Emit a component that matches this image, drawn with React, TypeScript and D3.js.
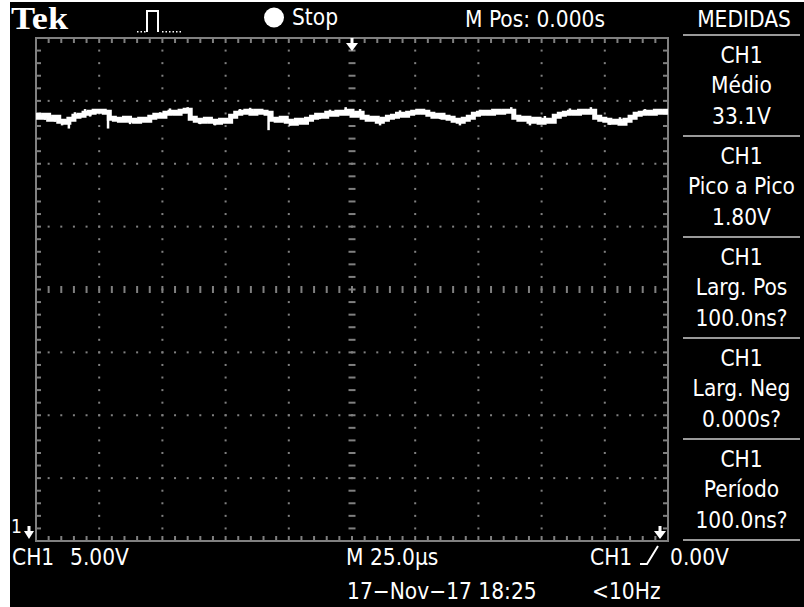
import { useEffect, useRef } from "react";
import * as d3 from "d3";

// scope settings shown on screen
const timePerDiv = 25; // µs / div
const voltsPerDiv = 5; // V / div
const horizDivs = 10;
const vertDivs = 8;
const screenBottomVolts = -0.6; // CH1 ground marker sits just under the graticule

// CH1 record: [time µs, volts]
const ch1Trace: [number, number][] = [
  [-125, 33.26], [-123, 33.1], [-121, 33.26], [-119, 32.94], [-117, 33.1], [-115, 32.78],
  [-113, 32.7], [-111, 32.94], [-109, 33.18], [-107, 33.26], [-105, 33.42], [-103, 33.5],
  [-101, 33.58], [-99, 33.58], [-97, 33.5], [-95, 33.02], [-93, 32.94], [-91, 32.86],
  [-89, 33.02], [-87, 32.86], [-85, 32.78], [-83, 32.94], [-81, 32.86], [-79, 33.1],
  [-77, 33.26], [-75, 33.18], [-73, 33.42], [-71, 33.5], [-69, 33.42], [-67, 33.58],
  [-65, 33.66], [-63, 33.02], [-61, 32.86], [-59, 32.78], [-57, 32.94], [-55, 32.78],
  [-53, 32.7], [-51, 32.86], [-49, 32.78], [-47, 33.18], [-45, 33.42], [-43, 33.5],
  [-41, 33.58], [-39, 33.42], [-37, 33.58], [-35, 33.5], [-33, 33.42], [-31, 32.94],
  [-29, 32.86], [-27, 33.02], [-25, 32.78], [-23, 32.62], [-21, 32.86], [-19, 32.7],
  [-17, 32.94], [-15, 33.1], [-13, 33.26], [-11, 33.18], [-9, 33.42], [-7, 33.34],
  [-5, 33.5], [-3, 33.42], [-1, 33.58], [1, 33.26], [3, 33.42], [5, 33.1],
  [7, 32.94], [9, 33.02], [11, 32.78], [13, 32.94], [15, 33.1], [17, 33.18],
  [19, 33.34], [21, 33.26], [23, 33.42], [25, 33.5], [27, 33.58], [29, 33.5],
  [31, 33.34], [33, 33.18], [35, 33.26], [37, 33.1], [39, 33.02], [41, 32.86],
  [43, 32.78], [45, 32.94], [47, 33.1], [49, 33.34], [51, 33.42], [53, 33.5],
  [55, 33.42], [57, 33.58], [59, 33.5], [61, 33.58], [63, 33.58], [65, 33.1],
  [67, 32.94], [69, 33.02], [71, 32.78], [73, 32.94], [75, 32.7], [77, 32.86],
  [79, 32.78], [81, 33.18], [83, 33.34], [85, 33.42], [87, 33.5], [89, 33.42],
  [91, 33.58], [93, 33.5], [95, 33.58], [97, 33.1], [99, 32.94], [101, 32.86],
  [103, 32.7], [105, 32.78], [107, 32.62], [109, 32.86], [111, 33.1], [113, 33.34],
  [115, 33.42], [117, 33.5], [119, 33.42], [121, 33.58], [123, 33.5], [125, 33.58],
];

// glitches on the trace: [time µs, extreme volts]
const ch1Glitches: [number, number][] = [
  [-112, 32.2], [-96.5, 32.2], [-65, 33.9], [-33, 32.07], [-2.5, 33.9], [63, 33.9], [94.5, 33.9],
  [-123.4, 33.45], [-121.4, 32.9], [-117.5, 32.75], [-114.7, 32.45], [-109.6, 33.5],
  [-105.6, 33.75], [-103.6, 33.15], [-87.8, 32.55], [-75.9, 33.5], [-72, 33.8],
  [-60.1, 32.55], [-54.2, 32.45], [-44.3, 33.75], [-40.3, 33.85], [-24.5, 32.45],
  [-12.7, 32.95], [-8.7, 33.7], [3.2, 33.75], [11.1, 32.45], [19, 33.65], [34.8, 32.95],
  [42.7, 32.45], [50.6, 33.7], [70.4, 32.45], [76.3, 33.2], [86.2, 33.8], [102, 32.5],
  [106, 33.1], [115.9, 33.75], [119.9, 33.7],
];

const measureSource = "CH1";
const measureLabels = ["Médio", "Pico a Pico", "Larg. Pos", "Larg. Neg", "Período"];
const measureValues = ["33.1V", "1.80V", "100.0ns?", "0.000s?", "100.0ns?"];

const brandLabel = "Tek";
const runLabel = "Stop";
const hPosLabel = "M Pos: 0.000s";
const menuLabel = "MEDIDAS";
const chScaleLabel = ["CH1", "5.00V"];
const timeBaseLabel = "M 25.0\u00b5s";
const triggerLabel = ["CH1", "0.00V"];
const dateLabel = "17\u2212Nov\u221217 18:25";
const freqLabel = "<10Hz";

const FONT = "'DejaVu Sans Condensed', 'DejaVu Sans', sans-serif";
const GRID = "#808080";

export default function App() {
  const svgRef = useRef<SVGSVGElement>(null);

  useEffect(() => {
    if (!svgRef.current) return;
    const svg = d3.select(svgRef.current);
    svg.selectAll("*").remove();

    const W = 804, H = 607;
    svg.append("rect").attr("width", W).attr("height", H).attr("fill", "#fff");
    svg.append("rect").attr("x", 10).attr("y", 2).attr("width", W - 10).attr("height", H - 2).attr("fill", "#000");

    const left = 36, right = 668, top = 38, bottom = 541;
    const halfSpan = (timePerDiv * horizDivs) / 2;
    const x = d3.scaleLinear().domain([-halfSpan, halfSpan]).range([left, right]);
    const y = d3.scaleLinear()
      .domain([screenBottomVolts, screenBottomVolts + voltsPerDiv * vertDivs])
      .range([bottom, top]);

    const eps = 1e-6;
    const majorT = d3.range(-halfSpan, halfSpan + eps, timePerDiv);
    const minorT = d3.range(-halfSpan, halfSpan + eps, timePerDiv / 5);
    const majorV = d3.range(0, vertDivs + eps).map(i => screenBottomVolts + i * voltsPerDiv);
    const minorV = d3.range(0, vertDivs * 5 + eps).map(i => screenBottomVolts + (i * voltsPerDiv) / 5);
    const midT = 0;
    const midV = screenBottomVolts + (voltsPerDiv * vertDivs) / 2;

    const g = svg.append("g");

    // dotted grid lines
    majorT.filter(t => t !== midT && t !== majorT[0] && t !== majorT[majorT.length - 1]).forEach(t => {
      minorV.forEach(v => {
        g.append("rect").attr("x", x(t) - 1).attr("y", y(v) - 1).attr("width", 2).attr("height", 2).attr("fill", GRID);
      });
    });
    majorV.filter((v, i) => i !== 0 && i !== majorV.length - 1 && Math.abs(v - midV) > eps).forEach(v => {
      minorT.forEach(t => {
        g.append("rect").attr("x", x(t) - 1).attr("y", y(v) - 1).attr("width", 2).attr("height", 2).attr("fill", GRID);
      });
    });

    // centre axes with minor ticks
    minorT.slice(1, -1).forEach(t => {
      g.append("line").attr("x1", x(t)).attr("x2", x(t)).attr("y1", y(midV) - 3.5).attr("y2", y(midV) + 3.5)
        .attr("stroke", GRID).attr("stroke-width", 2);
    });
    minorV.slice(1, -1).forEach(v => {
      g.append("line").attr("x1", x(midT) - 3.5).attr("x2", x(midT) + 3.5).attr("y1", y(v)).attr("y2", y(v))
        .attr("stroke", GRID).attr("stroke-width", 2);
    });

    // border with edge ticks
    g.append("rect").attr("x", left).attr("y", top).attr("width", right - left).attr("height", bottom - top)
      .attr("fill", "none").attr("stroke", GRID).attr("stroke-width", 2);
    minorT.slice(1, -1).forEach(t => {
      g.append("line").attr("x1", x(t)).attr("x2", x(t)).attr("y1", top).attr("y2", top + 5).attr("stroke", GRID).attr("stroke-width", 2);
      g.append("line").attr("x1", x(t)).attr("x2", x(t)).attr("y1", bottom - 5).attr("y2", bottom).attr("stroke", GRID).attr("stroke-width", 2);
    });
    minorV.slice(1, -1).forEach(v => {
      g.append("line").attr("x1", left).attr("x2", left + 5).attr("y1", y(v)).attr("y2", y(v)).attr("stroke", GRID).attr("stroke-width", 2);
      g.append("line").attr("x1", right - 5).attr("x2", right).attr("y1", y(v)).attr("y2", y(v)).attr("stroke", GRID).attr("stroke-width", 2);
    });

    // CH1 trace
    const line = d3.line<[number, number]>()
      .x(d => x(d[0]))
      .y(d => y(d[1]))
      .curve(d3.curveStep);
    g.append("path").datum(ch1Trace)
      .attr("fill", "none").attr("stroke", "#fff").attr("stroke-width", 5)
      .attr("d", line);

    const bis = d3.bisector((d: [number, number]) => d[0]).center;
    ch1Glitches.forEach(([t, v]) => {
      const base = ch1Trace[bis(ch1Trace, t)][1];
      g.append("line").attr("x1", x(t)).attr("x2", x(t)).attr("y1", y(base)).attr("y2", y(v))
        .attr("stroke", "#fff").attr("stroke-width", 2.5);
    });

    // markers
    const arrow = (cx: number, y0: number, half: number) => {
      g.append("rect").attr("x", cx - 1.5).attr("y", y0).attr("width", 3).attr("height", 7).attr("fill", "#fff");
      g.append("path").attr("d", `M${cx - half},${y0 + 5}L${cx + half},${y0 + 5}L${cx},${y0 + 13}Z`).attr("fill", "#fff");
    };
    arrow(x(0), top, 6);
    arrow(660, 526, 6);
    arrow(29, 526, 5);

    const txt = (px: number, py: number, s: string, anchor = "start", size = 22.5) =>
      svg.append("text").attr("x", px).attr("y", py).attr("text-anchor", anchor)
        .attr("font-family", FONT).attr("font-stretch", "condensed").attr("font-size", size)
        .attr("fill", "#fff").text(s);

    txt(11, 533, "1", "start", 19);

    // top status bar
    svg.append("text").attr("x", 11).attr("y", 29).attr("font-family", "'Liberation Serif', serif")
      .attr("font-weight", "bold").attr("font-size", 32).attr("textLength", 57).attr("lengthAdjust", "spacingAndGlyphs")
      .attr("fill", "#fff").text(brandLabel);
    svg.append("path").attr("d", "M147,32V11H158V32").attr("fill", "none").attr("stroke", "#fff").attr("stroke-width", 2);
    [137, 140.5, 144, 162, 165.5, 169, 172.5, 176, 179.5].forEach(px => {
      svg.append("rect").attr("x", px).attr("y", 31).attr("width", 1.5).attr("height", 1.5).attr("fill", "#fff");
    });
    svg.append("circle").attr("cx", 274).attr("cy", 17.5).attr("r", 10).attr("fill", "#fff");
    txt(292, 25, runLabel);
    txt(465, 27, hPosLabel);
    txt(744, 27, menuLabel, "middle");

    // measurement panel
    const panelX0 = 683, panelX1 = 800, panelTop = 35, boxH = 101;
    const cx = (panelX0 + panelX1) / 2;
    d3.range(measureLabels.length + 1).forEach(i => {
      svg.append("line").attr("x1", panelX0).attr("x2", panelX1)
        .attr("y1", panelTop + i * boxH).attr("y2", panelTop + i * boxH)
        .attr("stroke", "#9a9a9a").attr("stroke-width", 2);
    });
    measureLabels.forEach((lab, i) => {
      const t0 = panelTop + i * boxH;
      txt(cx, t0 + 28, measureSource, "middle");
      txt(cx, t0 + 58, lab, "middle");
      txt(cx, t0 + 89, measureValues[i], "middle");
    });

    // bottom status
    txt(12, 565, chScaleLabel[0]);
    txt(70, 565, chScaleLabel[1]);
    txt(346, 565, timeBaseLabel);
    txt(590, 565, triggerLabel[0]);
    svg.append("path").attr("d", "M640,564H647L658,546").attr("fill", "none").attr("stroke", "#fff").attr("stroke-width", 2);
    txt(670, 565, triggerLabel[1]);
    txt(347, 599, dateLabel);
    txt(592, 599, freqLabel);
  }, []);

  return (
    <svg
      ref={svgRef}
      width={804}
      height={607}
      style={{ position: "absolute", left: 0, top: 0, display: "block" }}
    />
  );
}
